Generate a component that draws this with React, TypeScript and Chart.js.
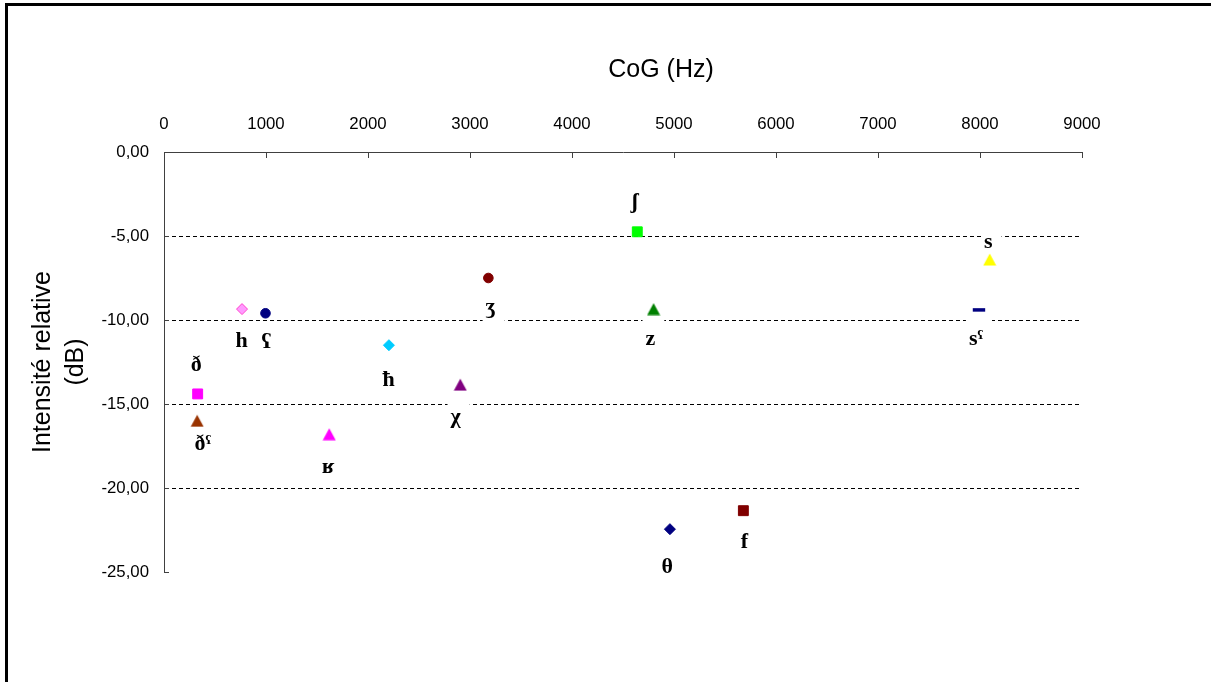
import React, { useEffect, useRef } from 'react';
import { Chart, registerables } from 'chart.js';

Chart.register(...registerables);

// ---------- data ----------
const phonemes = ['ð', 'ðˤ', 'h', 'ʕ', 'ʁ', 'ħ', 'χ', 'ʒ', 'ʃ', 'z', 'θ', 'f', 's', 'sˤ'];
const cogHz = [330, 325, 765, 995, 1620, 2205, 2905, 3180, 4640, 4800, 4960, 5680, 8095, 7990];
const intensityDb = [-14.4, -16.0, -9.35, -9.6, -16.8, -11.5, -13.85, -7.5, -4.75, -9.35, -22.45, -21.35, -6.4, -9.4];
const xTickValues = [0, 1000, 2000, 3000, 4000, 5000, 6000, 7000, 8000, 9000];
const yTickValues = [0, -5, -10, -15, -20, -25];

// ---------- styles ----------
const markerShapes = ['square', 'triangle', 'diamond', 'circle', 'triangle', 'diamond', 'triangle', 'circle', 'square', 'triangle', 'diamond', 'square', 'triangle', 'dash'];
const fillColors = ['#FF00FF', '#993300', '#FF99FF', '#000080', '#FF00FF', '#00CCFF', '#800080', '#800000', '#00FF00', '#008000', '#000080', '#800000', '#FFFF00', '#000080'];
const edgeColors = ['#FF00FF', '#993300', '#FF44CC', '#000080', '#FF00FF', '#00CCFF', '#800080', '#800000', '#00FF00', '#008000', '#000080', '#800000', '#FFFF00', '#000080'];
// label placement: [dx from marker, baseline dy from marker] in px
const labelOffsets: [number, number][] = [
  [-1.5, -23], [5.7, 29], [-0.5, 38.3], [0.7, 34.3], [-1.2, 38.5], [-0.2, 41.2], [-4.7, 38.5],
  [2.3, 34.7], [-2.5, -24.2], [-3.2, 36.1], [-2.7, 43.8], [1.1, 37.5], [-1.4, -11.7], [-3, 35.5],
];

const LABEL_FONT = 'bold 22px "Liberation Serif", "DejaVu Serif", "Times New Roman", serif';
const SANS = '"Liberation Sans", Arial, sans-serif';

function triangleMarker(color: string): HTMLCanvasElement {
  const c = document.createElement('canvas');
  c.width = 14;
  c.height = 13;
  const g = c.getContext('2d')!;
  g.fillStyle = color;
  g.beginPath();
  g.moveTo(7, 0.5);
  g.lineTo(13.5, 12.5);
  g.lineTo(0.5, 12.5);
  g.closePath();
  g.fill();
  return c;
}

function fmtComma(v: number) {
  const s = Math.abs(v) < 1e-9 ? '0.00' : v.toFixed(2);
  return s.replace('.', ',');
}

function labelBox(ctx: CanvasRenderingContext2D, i: number, x: number, y: number) {
  const [dx, dy] = labelOffsets[i];
  const cx = x + dx;
  const by = y + dy;
  ctx.font = LABEL_FONT;
  const w = ctx.measureText(phonemes[i]).width;
  return { cx, by, left: cx - w / 2 - 3, right: cx + w / 2 + 9, top: by - 25.5, bottom: by + 10 };
}

const labelPlugin = {
  id: 'phonemeLabels',
  beforeDatasetsDraw(chart: any) {
    const ctx: CanvasRenderingContext2D = chart.ctx;
    ctx.save();
    ctx.fillStyle = '#FFFFFF';
    chart.data.datasets.forEach((_d: any, i: number) => {
      const el = chart.getDatasetMeta(i).data[0];
      if (!el) return;
      const b = labelBox(ctx, i, el.x, el.y);
      ctx.fillRect(b.left, b.top, b.right - b.left, b.bottom - b.top);
    });
    ctx.restore();
  },
  afterDatasetsDraw(chart: any) {
    const ctx: CanvasRenderingContext2D = chart.ctx;
    ctx.save();
    ctx.fillStyle = '#000000';
    ctx.textAlign = 'center';
    ctx.textBaseline = 'alphabetic';
    chart.data.datasets.forEach((_d: any, i: number) => {
      const el = chart.getDatasetMeta(i).data[0];
      if (!el) return;
      const b = labelBox(ctx, i, el.x, el.y);
      ctx.font = LABEL_FONT;
      ctx.fillText(phonemes[i], b.cx, b.by);
    });
    ctx.restore();
  },
};

const xTitlePlugin = {
  id: 'xTitle',
  afterDraw(chart: any) {
    const ctx: CanvasRenderingContext2D = chart.ctx;
    ctx.save();
    ctx.font = `25px ${SANS}`;
    ctx.fillStyle = '#000';
    ctx.textAlign = 'center';
    ctx.textBaseline = 'middle';
    ctx.fillText('CoG (Hz)', 661, 70);
    ctx.restore();
  },
};

function buildDatasets() {
  return phonemes.map((p, i) => {
    const shape = markerShapes[i];
    const base: any = {
      label: p,
      data: [{ x: cogHz[i], y: intensityDb[i] }],
      backgroundColor: fillColors[i],
      borderColor: edgeColors[i],
      borderWidth: 1,
      clip: false,
    };
    if (shape === 'square') {
      base.pointStyle = 'rect';
      base.pointRadius = 7;
    } else if (shape === 'diamond') {
      base.pointStyle = 'rectRot';
      base.pointRadius = 5.5;
    } else if (shape === 'circle') {
      base.pointStyle = 'circle';
      base.pointRadius = 4.8;
    } else if (shape === 'triangle') {
      base.pointStyle = triangleMarker(fillColors[i]);
      base.pointRadius = 7;
    } else if (shape === 'dash') {
      base.pointStyle = 'line';
      base.pointRadius = 6.2;
      base.borderWidth = 3.5;
    }
    return base;
  });
}

export default function App() {
  const ref = useRef<HTMLCanvasElement>(null);

  useEffect(() => {
    const chart = new Chart(ref.current!, {
      type: 'scatter',
      data: { datasets: buildDatasets() },
      options: {
        responsive: false,
        animation: false,
        devicePixelRatio: 1,
        layout: { padding: { left: 0, top: 0, right: 129, bottom: 110 } },
        plugins: {
          legend: { display: false },
          tooltip: { enabled: false },
          title: { display: false },
        },
        scales: {
          x: {
            type: 'linear',
            position: 'top',
            min: 0,
            max: 9000,
            afterBuildTicks: (s: any) => {
              s.ticks = xTickValues.map((v) => ({ value: v }));
            },
            afterFit: (s: any) => {
              s.height = 152;
            },
            ticks: {
              color: '#000',
              font: { family: SANS, size: 16.8 },
              padding: 23.1,
              maxRotation: 0,
              autoSkip: false,
              callback: (v: any) => String(v),
            },
            grid: {
              drawOnChartArea: false,
              drawTicks: true,
              tickLength: -6,
              tickColor: '#404040',
              tickWidth: 1,
            },
            border: { display: true, color: '#404040', width: 1 },
          },
          y: {
            type: 'linear',
            position: 'left',
            min: -25,
            max: 0,
            afterBuildTicks: (s: any) => {
              s.ticks = yTickValues.map((v) => ({ value: v }));
            },
            afterFit: (s: any) => {
              s.width = 164;
            },
            ticks: {
              color: '#000',
              font: { family: SANS, size: 16.8 },
              padding: 20,
              autoSkip: false,
              callback: (v: any) => fmtComma(Number(v)),
            },
            grid: {
              drawOnChartArea: true,
              drawTicks: true,
              tickLength: -5,
              tickColor: '#404040',
              tickWidth: 1,
              lineWidth: 1,
              color: (c: any) => {
                const v = c.tick ? c.tick.value : null;
                return v === 0 || v === -25 ? 'rgba(0,0,0,0)' : '#000000';
              },
            },
            border: { display: true, color: '#404040', width: 1, dash: [4, 3] },
            title: {
              display: true,
              text: ['Intensité relative', '(dB)'],
              color: '#000',
              font: { family: SANS, size: 25, lineHeight: 1.32 },
              padding: { top: 27, bottom: 0 },
            },
          },
        },
      },
      plugins: [labelPlugin, xTitlePlugin],
    } as any);
    return () => chart.destroy();
  }, []);

  return (
    <div
      style={{
        position: 'fixed',
        left: 0,
        top: 0,
        width: 1211,
        height: 682,
        overflow: 'hidden',
        background: '#fff',
      }}
    >
      <div
        style={{
          position: 'absolute',
          left: 5,
          top: 3,
          width: 1400,
          height: 900,
          borderTop: '3px solid #000',
          borderLeft: '3px solid #000',
        }}
      />
      <canvas
        ref={ref}
        width={1211}
        height={682}
        style={{ position: 'absolute', left: 0, top: 0, width: 1211, height: 682 }}
      />
    </div>
  );
}
